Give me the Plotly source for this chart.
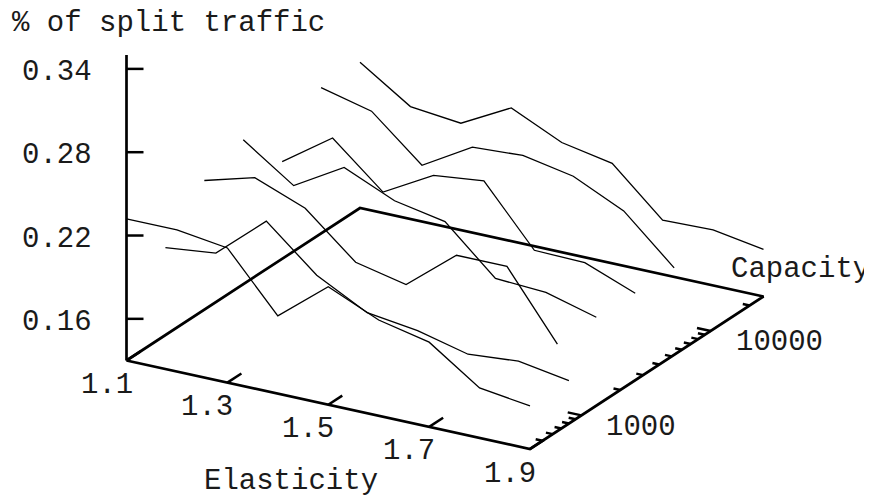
import math
import plotly.graph_objects as go

# ---------------- data ----------------
elasticity = [1.1, 1.2, 1.3, 1.4, 1.5, 1.6, 1.7, 1.8, 1.9]
capacity = [400, 800, 1600, 3200, 6400, 12800, 25600]

split_c400 = [0.232, 0.232, 0.227, 0.186, 0.215, 0.199, 0.191, 0.166, 0.161]
split_c800 = [0.193, 0.197, 0.228, 0.197, 0.178, 0.173, 0.164, 0.167, 0.161]
split_c1600 = [0.223, 0.233, 0.219, 0.188, 0.180, 0.209, 0.209, 0.161, None]
split_c3200 = [0.234, 0.209, 0.230, 0.214, 0.207, 0.174, 0.172, 0.162, None]
split_c6400 = [0.200, 0.225, 0.194, 0.214, 0.218, 0.176, 0.175, 0.161, None]
split_c12800 = [0.235, 0.226, 0.195, 0.216, 0.218, 0.211, 0.194, 0.161, None]
split_c25600 = [0.235, 0.211, 0.207, 0.226, 0.209, 0.202, 0.169, 0.170, 0.164]

series = [split_c400, split_c800, split_c1600, split_c3200,
          split_c6400, split_c12800, split_c25600]

elast_ticks = [1.1, 1.3, 1.5, 1.7, 1.9]
elast_tick_labels = ["1.1", "1.3", "1.5", "1.7", "1.9"]
cap_major_ticks = [1000, 10000]
cap_major_labels = ["1000", "10000"]
cap_minor_ticks = [500, 600, 700, 800, 900,
                   2000, 3000, 4000, 5000, 6000, 7000, 8000, 9000, 20000]
z_ticks = [0.16, 0.22, 0.28, 0.34]
z_tick_labels = ["0.16", "0.22", "0.28", "0.34"]

# ---------------- axes ranges ----------------
E_MIN, E_MAX = 1.1, 1.9
C_MIN, C_MAX = 400, 25600
Z_MIN, Z_MAX = 0.13, 0.35

# ---------------- view (gnuplot-like fixed projection, pixels) ----------------
ORIGIN = (126.5, 360.5)
E_VEC = (403.5, 88.5)
C_VEC = (233.5, -152.5)
Z_LEN = 305.5

# the page body has an 8px margin: the figure is placed at (8, 8)
PAGE_OFF = 8
WIN_W, WIN_H = 872, 500


def proj(e, c, z):
    u = (e - E_MIN) / (E_MAX - E_MIN)
    v = (math.log10(c) - math.log10(C_MIN)) / (math.log10(C_MAX) - math.log10(C_MIN))
    w = (z - Z_MIN) / (Z_MAX - Z_MIN)
    x = ORIGIN[0] + u * E_VEC[0] + v * C_VEC[0]
    y = ORIGIN[1] + u * E_VEC[1] + v * C_VEC[1] - w * Z_LEN
    return x, y


FONT = dict(family="Liberation Mono, Courier New, monospace", size=29, color="#1a1a1a")

fig = go.Figure()

# data lines
for cap, vals in zip(capacity, series):
    xs, ys = [], []
    for e, z in zip(elasticity, vals):
        if z is None:
            xs.append(None)
            ys.append(None)
        else:
            px, py = proj(e, cap, z)
            xs.append(px)
            ys.append(py)
    fig.add_trace(go.Scatter(x=xs, y=ys, mode="lines",
                             line=dict(color="black", width=1.3),
                             hoverinfo="skip"))

# base border + z axis
bx, by = [], []
corners = [(E_MIN, C_MIN), (E_MAX, C_MIN), (E_MAX, C_MAX), (E_MIN, C_MAX), (E_MIN, C_MIN)]
for e, c in corners:
    px, py = proj(e, c, Z_MIN)
    bx.append(px)
    by.append(py)
bx.append(None); by.append(None)
for z in (Z_MIN, Z_MAX):
    px, py = proj(E_MIN, C_MIN, z)
    bx.append(px)
    by.append(py)
fig.add_trace(go.Scatter(x=bx, y=by, mode="lines",
                         line=dict(color="black", width=2.7), hoverinfo="skip"))

# ticks
tx, ty = [], []
ann = []
# elasticity ticks (pointing along capacity direction)
for e, lab in zip(elast_ticks, elast_tick_labels):
    x0, y0 = proj(e, C_MIN, Z_MIN)
    tx += [x0, x0 + 0.06 * C_VEC[0], None]
    ty += [y0, y0 + 0.06 * C_VEC[1], None]
    ann.append(dict(x=x0 - 20, y=y0 + 25, text=lab, xanchor="center", yanchor="middle"))
# capacity ticks (pointing back along -elasticity)
for c, lab in zip(cap_major_ticks, cap_major_labels):
    x0, y0 = proj(E_MAX, c, Z_MIN)
    tx += [x0, x0 - 0.034 * E_VEC[0], None]
    ty += [y0, y0 - 0.034 * E_VEC[1], None]
    ann.append(dict(x=x0 + 23, y=y0 + 12, text=lab, xanchor="left", yanchor="middle"))
for c in cap_minor_ticks:
    x0, y0 = proj(E_MAX, c, Z_MIN)
    tx += [x0, x0 - 0.017 * E_VEC[0], None]
    ty += [y0, y0 - 0.017 * E_VEC[1], None]
# z ticks
for z, lab in zip(z_ticks, z_tick_labels):
    x0, y0 = proj(E_MIN, C_MIN, z)
    tx += [x0, x0 + 17, None]
    ty += [y0, y0, None]
    ann.append(dict(x=x0 - 33, y=y0 + 3.5, text=lab, xanchor="right", yanchor="middle"))

fig.add_trace(go.Scatter(x=tx, y=ty, mode="lines",
                         line=dict(color="black", width=2.5), hoverinfo="skip"))

# axis titles
ann.append(dict(x=10, y=23, text="% of split traffic", xanchor="left", yanchor="middle"))
ann.append(dict(x=291, y=WIN_H, text="Elasticity", xanchor="center", yanchor="bottom"))
ann.append(dict(x=729, y=269, text="Capacity", xanchor="left", yanchor="middle"))

for a in ann:
    a.update(xref="x", yref="y", showarrow=False, font=FONT)

fig.update_layout(
    width=WIN_W - PAGE_OFF, height=WIN_H - PAGE_OFF,
    margin=dict(l=0, r=0, t=0, b=0),
    paper_bgcolor="white", plot_bgcolor="white",
    showlegend=False,
    xaxis=dict(range=[PAGE_OFF, WIN_W], visible=False, fixedrange=True),
    yaxis=dict(range=[WIN_H, PAGE_OFF], visible=False, fixedrange=True),
    annotations=ann,
)

fig.write_html("out.html")
